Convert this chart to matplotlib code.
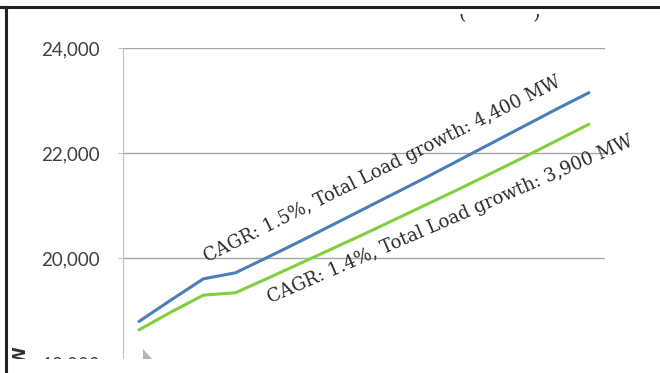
import numpy as np
import matplotlib.pyplot as plt
from matplotlib.lines import Line2D
from matplotlib.patches import Rectangle, Polygon
from matplotlib.transforms import Bbox

# load forecast, MW (x axis labels fall outside the crop)
load_high = [18800, 19210, 19610, 19725, 20020, 20320, 20630, 20940,
             21250, 21560, 21880, 22200, 22520, 22840, 23150]
load_low = [18640, 18980, 19300, 19345, 19620, 19900, 20180, 20460,
            20750, 21040, 21330, 21630, 21930, 22240, 22550]
yticks = [18000, 20000, 22000, 24000]
label_high = 'CAGR: 1.5%, Total Load growth: 4,400 MW'
label_low = 'CAGR: 1.4%, Total Load growth: 3,900 MW'

W, H = 660, 373
fig = plt.figure(figsize=(W / 100, H / 100), dpi=100)
fig.patch.set_facecolor('white')

# plot area: 24,000 at y=48px, 18,000 at y=363.5px (bottom is cropped)
ax = fig.add_axes([123 / W, 1 - 363.5 / H, (605 - 123) / W, (363.5 - 48) / H])
x = np.arange(len(load_high))
ax.plot(x, load_high, color='#4A7EBB', lw=2.2, solid_capstyle='round', zorder=3)
ax.plot(x, load_low, color='#7FCF3F', lw=2.2, solid_capstyle='round', zorder=3)

ax.set_xlim(-0.5, len(x) - 0.5)
ax.set_ylim(yticks[0], yticks[-1])
ax.set_yticks(yticks)
ax.set_yticklabels([f'{v:,}' for v in yticks], family='Lato', fontsize=13.5,
                   color='#404040')
ax.set_xticks([])
ax.yaxis.grid(True, color='#a6a6a6', lw=1)
ax.set_axisbelow(True)
for s in ['top', 'right', 'bottom']:
    ax.spines[s].set_visible(False)
ax.spines['left'].set_color('#bfbfbf')
ax.tick_params(axis='y', length=3.6, color='#bfbfbf', pad=13)

ax.text(2.12, 19920, label_high, rotation=26.5, rotation_mode='anchor',
        ha='left', va='baseline', family='DejaVu Serif', fontsize=13,
        color='#2a2a2a')
ax.text(4.08, 19150, label_low, rotation=23.5, rotation_mode='anchor',
        ha='left', va='baseline', family='DejaVu Serif', fontsize=13,
        color='#2a2a2a')

# y axis title, mostly cropped away
fig.text(20 / W, 1 - 362 / H, 'MW', rotation=90, ha='center', va='center',
         fontsize=12, weight='bold', color='#303030')

# bottoms of the cropped chart title's brackets
clip = Bbox.from_extents(0, H - 24, W, H - 14)
for px, ch in [(462, '('), (536, ')')]:
    t = fig.text(px / W, 1 - 23 / H, ch, ha='center', va='bottom',
                 family='DejaVu Serif', fontsize=14, color='#333333')
    t.set_clip_box(clip)
    t.set_clip_on(True)

# pointer remnant at the bottom edge
fig.patches.append(Polygon([[143 / W, 1 - 359 / H], [143 / W, 1 - 349 / H],
                            [152 / W, 1 - 359 / H]], closed=True,
                           transform=fig.transFigure, facecolor='#b5b5b5',
                           edgecolor='none', zorder=12))

# crop: white strip at the bottom and the dark frame at top/left
fig.patches.append(Rectangle((0, 0), 1, (H - 359) / H, transform=fig.transFigure,
                             facecolor='white', edgecolor='none', zorder=10))
fig.lines.append(Line2D([0, 1], [1 - 7 / H] * 2, transform=fig.transFigure,
                        color='#222222', lw=2.2, zorder=11))
fig.lines.append(Line2D([6 / W] * 2, [0, 1 - 7 / H], transform=fig.transFigure,
                        color='#222222', lw=2.2, zorder=11))

fig.savefig('out.png', dpi=100)
